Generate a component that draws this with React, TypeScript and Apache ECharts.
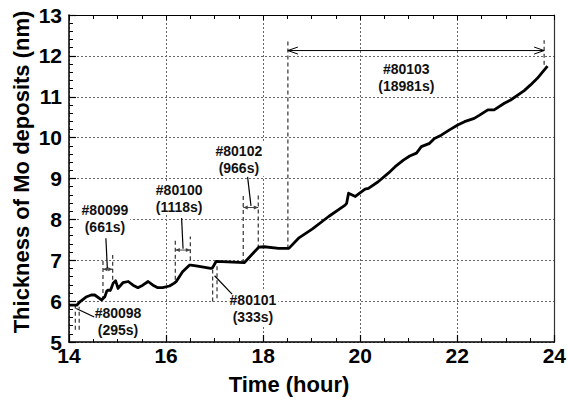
import React, { useEffect, useRef } from "react";
import * as echarts from "echarts";

// ---- data ----
const timeHours = [
  14.0, 14.16, 14.23, 14.35, 14.46, 14.53, 14.67, 14.74, 14.78, 14.81,
  14.85, 14.87, 14.91, 14.96, 15.01, 15.11, 15.22, 15.32, 15.42, 15.52,
  15.63, 15.73, 15.83, 15.93, 16.07, 16.17, 16.21, 16.34, 16.48, 16.51,
  16.62, 16.92, 16.96, 17.03, 17.61, 17.91, 18.02, 18.32, 18.53, 18.73,
  19.01, 19.35, 19.69, 19.72, 19.76, 19.9, 20.1, 20.17, 20.37, 20.58,
  20.72, 20.89, 21.02, 21.16, 21.26, 21.43, 21.53, 21.67, 21.84, 22.01,
  22.15, 22.35, 22.46, 22.63, 22.76, 22.97, 23.1, 23.38, 23.51, 23.65,
  23.79, 23.86,
];
const thicknessNm = [
  5.9, 5.9, 5.99, 6.1, 6.15, 6.15, 6.03, 6.11, 6.25, 6.27,
  6.26, 6.31, 6.44, 6.5, 6.31, 6.45, 6.48, 6.39, 6.33, 6.39,
  6.48, 6.39, 6.33, 6.33, 6.37, 6.44, 6.48, 6.72, 6.88, 6.88,
  6.86, 6.8, 6.82, 6.97, 6.94, 7.32, 7.33, 7.29, 7.29, 7.54,
  7.76, 8.07, 8.35, 8.39, 8.64, 8.56, 8.74, 8.76, 8.92, 9.13,
  9.29, 9.45, 9.55, 9.62, 9.78, 9.86, 9.98, 10.06, 10.19, 10.31,
  10.39, 10.47, 10.55, 10.68, 10.68, 10.84, 10.92, 11.15, 11.29, 11.45,
  11.65, 11.75,
];

const xTickInterval = 2;
const yTickInterval = 1;

// shot annotations
const shotIds = ["#80098", "#80099", "#80100", "#80101", "#80102", "#80103"];
const shotDurations = ["(295s)", "(661s)", "(1118s)", "(333s)", "(966s)", "(18981s)"];
const shotStart = [14.13, 14.7, 16.19, 16.96, 17.59, 18.51];
const shotEnd = [14.21, 14.9, 16.5, 17.05, 17.9, 23.79];
const startLineLow = [5.3, 6.03, 6.52, 5.99, 6.93, 7.29];
const startLineHigh = [5.88, 7.02, 7.5, 6.8, 8.64, 12.36];
const endLineLow = [5.3, 6.52, 7.0, 6.07, 7.29, 11.78];
const endLineHigh = [5.86, 7.13, 7.58, 6.88, 8.64, 12.38];
const arrowLevel = [null, 6.78, 7.25, null, 8.29, 12.13];
const arrowKind = ["none", "small", "small", "none", "small", "open"];
const leaderFrom = [[14.15, 5.82], [14.79, 6.8], [16.35, 7.28], [17.0, 6.62], [17.75, 8.33]];
const leaderTo = [[14.52, 5.61], [14.76, 7.54], [16.32, 8.03], [17.36, 6.17], [17.68, 9.04]];
const labelAt = [[15.01, 5.49], [14.74, 8.03], [16.27, 8.52], [17.79, 5.83], [17.5, 9.47], [20.95, 11.48]];

const FONT = '"Liberation Sans", Arial, Helvetica, sans-serif';

export default function App() {
  const ref = useRef<HTMLDivElement>(null);
  useEffect(() => {
    if (!ref.current) return;
    const chart = echarts.init(ref.current, null, { renderer: "svg" });

    const renderItem = (params: any, api: any) => {
      const i = params.dataIndex;
      const children: any[] = [];
      const poly = (pts: number[][], style: any) => {
        children.push({
          type: "polyline",
          shape: { points: pts.map((d) => api.coord(d)) },
          style: Object.assign({ fill: null }, style),
        });
      };
      const c = api.coord(labelAt[i]);
      children.push({
        type: "text",
        x: c[0],
        y: c[1],
        style: {
          text: shotIds[i] + "\n" + shotDurations[i],
          font: "bold 14px " + FONT,
          fill: "#111",
          textFill: "#111",
          align: "center",
          textAlign: "center",
          verticalAlign: "middle",
          textVerticalAlign: "middle",
          lineHeight: 17,
          textLineHeight: 17,
          backgroundColor: "#fff",
          textBackgroundColor: "#fff",
          padding: [0, 2],
          textPadding: [0, 2],
        },
      });
      const dash = { stroke: "#333", lineWidth: 1.2, lineDash: [4, 3] };
      poly([[shotStart[i], startLineLow[i]], [shotStart[i], startLineHigh[i]]], dash);
      poly([[shotEnd[i], endLineLow[i]], [shotEnd[i], endLineHigh[i]]], dash);
      const lv = arrowLevel[i];
      if (lv !== null) {
        const p = api.coord([shotStart[i], lv]);
        const q = api.coord([shotEnd[i], lv]);
        if (arrowKind[i] === "small") {
          poly([[shotStart[i], lv], [shotEnd[i], lv]], { stroke: "#444", lineWidth: 1 });
          children.push({
            type: "polygon",
            shape: { points: [[p[0], p[1]], [p[0] + 4.5, p[1] - 2], [p[0] + 4.5, p[1] + 2]] },
            style: { fill: "#444" },
          });
          children.push({
            type: "polygon",
            shape: { points: [[q[0], q[1]], [q[0] - 4.5, q[1] - 2], [q[0] - 4.5, q[1] + 2]] },
            style: { fill: "#444" },
          });
        } else if (arrowKind[i] === "open") {
          poly([[shotStart[i], lv], [shotEnd[i], lv]], { stroke: "#000", lineWidth: 1 });
          children.push({
            type: "polyline",
            shape: { points: [[p[0] + 10, p[1] - 3.5], [p[0], p[1]], [p[0] + 10, p[1] + 3.5]] },
            style: { stroke: "#000", lineWidth: 1, fill: null },
          });
          children.push({
            type: "polyline",
            shape: { points: [[q[0] - 10, q[1] - 3.5], [q[0], q[1]], [q[0] - 10, q[1] + 3.5]] },
            style: { stroke: "#000", lineWidth: 1, fill: null },
          });
        }
      }
      return { type: "group", children };
    };

    const axisLineStyle = { color: "#000", width: 1.5 };
    const gridLine = { show: true, lineStyle: { color: "#666", width: 1, type: [2, 2] } };

    chart.setOption({
      animation: false,
      backgroundColor: "#fff",
      grid: { left: 69, right: 12, top: 15, bottom: 59, containLabel: false },
      xAxis: [
        {
          type: "value",
          min: 14,
          max: 24,
          interval: xTickInterval,
          position: "bottom",
          axisLine: { show: true, onZero: false, lineStyle: axisLineStyle },
          axisTick: { show: true, inside: true, length: 7, lineStyle: { color: "#000", width: 1.2 } },
          minorTick: { show: true, splitNumber: 4, length: 4, lineStyle: { color: "#000", width: 1 } },
          axisLabel: { fontSize: 21, fontWeight: "bold", color: "#000", margin: 3, fontFamily: FONT },
          splitLine: gridLine,
        },
        {
          type: "value",
          min: 14,
          max: 24,
          interval: xTickInterval,
          position: "top",
          axisLine: { show: true, onZero: false, lineStyle: { color: "#000", width: 1.2 } },
          axisTick: { show: true, inside: true, length: 5, lineStyle: { color: "#000", width: 1 } },
          minorTick: { show: true, splitNumber: 4, length: 4, lineStyle: { color: "#000", width: 1 } },
          axisLabel: { show: false },
          splitLine: { show: false },
        },
      ],
      yAxis: [
        {
          type: "value",
          min: 5,
          max: 13,
          interval: yTickInterval,
          position: "left",
          axisLine: { show: true, onZero: false, lineStyle: axisLineStyle },
          axisTick: { show: true, inside: true, length: 7, lineStyle: { color: "#000", width: 1.2 } },
          minorTick: { show: true, splitNumber: 5, length: 4, lineStyle: { color: "#000", width: 1 } },
          axisLabel: { fontSize: 21, fontWeight: "bold", color: "#000", margin: 7, fontFamily: FONT },
          splitLine: gridLine,
        },
        {
          type: "value",
          min: 5,
          max: 13,
          interval: yTickInterval,
          position: "right",
          axisLine: { show: true, onZero: false, lineStyle: { color: "#333", width: 1.2 } },
          axisTick: { show: false },
          axisLabel: { show: false },
          splitLine: { show: false },
        },
      ],
      graphic: [
        {
          type: "text",
          x: 289,
          y: 384,
          style: {
            text: "Time (hour)",
            font: "bold 22px " + FONT,
            fill: "#000",
            textFill: "#000",
            align: "center",
            textAlign: "center",
            verticalAlign: "middle",
            textVerticalAlign: "middle",
          },
        },
        {
          type: "text",
          x: 21,
          y: 172,
          rotation: Math.PI / 2,
          style: {
            text: "Thickness of Mo deposits (nm)",
            font: "bold 22px " + FONT,
            fill: "#000",
            textFill: "#000",
            align: "center",
            textAlign: "center",
            verticalAlign: "middle",
            textVerticalAlign: "middle",
          },
        },
      ],
      series: [
        {
          type: "custom",
          xAxisIndex: 0,
          yAxisIndex: 0,
          renderItem,
          data: shotIds.map((_, i) => [shotStart[i], startLineLow[i]]),
          z: 3,
          silent: true,
        },
        {
          type: "line",
          xAxisIndex: 0,
          yAxisIndex: 0,
          data: timeHours.map((t, i) => [t, thicknessNm[i]]),
          symbol: "none",
          lineStyle: { color: "#000", width: 2.8, join: "round" },
          z: 4,
          silent: true,
          markLine: {
            silent: true,
            symbol: ["none", "none"],
            label: { show: false },
            lineStyle: { color: "#000", width: 1.2, type: "solid" },
            data: leaderFrom.map((f, i) => [{ coord: f }, { coord: leaderTo[i] }]),
          },
        },
      ],
    });
    return () => chart.dispose();
  }, []);
  return (
    <div
      ref={ref}
      style={{ position: "fixed", left: 0, top: 0, width: 569, height: 401, background: "#fff" }}
    />
  );
}
